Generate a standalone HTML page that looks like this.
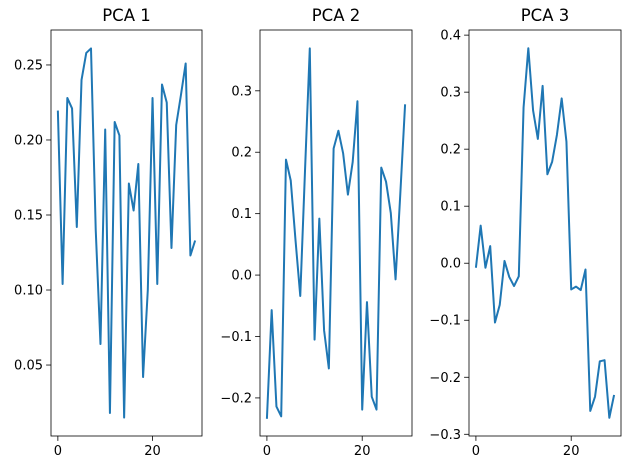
<!DOCTYPE html>
<html><head><meta charset="utf-8"><style>
body{margin:0;background:#fff}
svg{display:block;font-family:"DejaVu Sans","Liberation Sans",sans-serif}
</style></head><body>
<svg id="c" width="630" height="470"></svg>
<script>
const xIndex = Array.from({length:30},(_,i)=>i);
const pca1 = [0.2196,0.104,0.228,0.221,0.142,0.24,0.258,0.261,0.14,0.064,0.207,0.018,0.212,0.203,0.015,0.171,0.153,0.184,0.042,0.10,0.228,0.104,0.237,0.225,0.128,0.21,0.23,0.251,0.123,0.133];
const pca2 = [-0.234,-0.057,-0.214,-0.23,0.188,0.154,0.057,-0.034,0.171,0.369,-0.105,0.092,-0.09,-0.152,0.206,0.235,0.198,0.131,0.184,0.283,-0.219,-0.044,-0.198,-0.219,0.175,0.152,0.101,-0.007,0.133,0.278];
const pca3 = [-0.008,0.066,-0.008,0.03,-0.104,-0.073,0.004,-0.024,-0.04,-0.023,0.273,0.377,0.268,0.218,0.311,0.156,0.178,0.225,0.289,0.213,-0.046,-0.041,-0.047,-0.011,-0.259,-0.234,-0.172,-0.17,-0.271,-0.231];
const titles = ["PCA 1","PCA 2","PCA 3"];
const yTicks1 = [0.05,0.10,0.15,0.20,0.25];
const yTicks2 = [-0.2,-0.1,0.0,0.1,0.2,0.3];
const yTicks3 = [-0.3,-0.2,-0.1,0.0,0.1,0.2,0.3,0.4];
const xTicks = [0,20];

const NS="http://www.w3.org/2000/svg";
const svg=document.getElementById('c');
function el(tag,attrs,parent){const e=document.createElementNS(NS,tag);for(const k in attrs)e.setAttribute(k,attrs[k]);(parent||svg).appendChild(e);return e;}
const panels=[
 {L:51,R:202,ymin:0.0027,ymax:0.2733,data:pca1,ticks:yTicks1,dec:2},
 {L:260,R:412,ymin:-0.262,ymax:0.399,data:pca2,ticks:yTicks2,dec:1},
 {L:469,R:621,ymin:-0.303,ymax:0.409,data:pca3,ticks:yTicks3,dec:1}
];
const T=30,B=436,xmin=-1.45,xmax=30.45;
panels.forEach((p,i)=>{
 const g=el('g',{});
 
 
 const sx=v=>p.L+(v-xmin)/(xmax-xmin)*(p.R-p.L);
 const sy=v=>B-(v-p.ymin)/(p.ymax-p.ymin)*(B-T);
 const d=p.data.map((v,k)=>(k?'L':'M')+sx(xIndex[k]).toFixed(2)+','+sy(v).toFixed(2)).join('');
 const line=el('path',{d:d,fill:'none',stroke:'#1f77b4','stroke-width':2,'stroke-linejoin':'round'},g);
 
 
 const fr=el('rect',{x:p.L,y:T,width:p.R-p.L,height:B-T,fill:'none',stroke:'#000','stroke-width':0.8},g);
 
 
 const t=el('text',{x:(p.L+p.R)/2,y:21,'text-anchor':'middle','font-size':'16.5px',fill:'#000'},g);
 t.textContent=titles[i];
 
 
 p.ticks.forEach(v=>{
  const y=sy(v);
  el('line',{x1:p.L-4.9,x2:p.L,y1:y,y2:y,stroke:'#000','stroke-width':0.8},g);
  const tx=el('text',{x:p.L-8,y:y+4.5,'text-anchor':'end','font-size':'13px',fill:'#000'},g);
  tx.textContent=(v<0?'\u2212':'')+Math.abs(v).toFixed(p.dec);
  
  
 });
 xTicks.forEach(v=>{
  const x=sx(v);
  el('line',{x1:x,x2:x,y1:B,y2:B+4.9,stroke:'#000','stroke-width':0.8},g);
  const tx=el('text',{x:x,y:B+19,'text-anchor':'middle','font-size':'13px',fill:'#000'},g);
  tx.textContent=String(v);
  
  
 });
});
</script>
</body></html>
